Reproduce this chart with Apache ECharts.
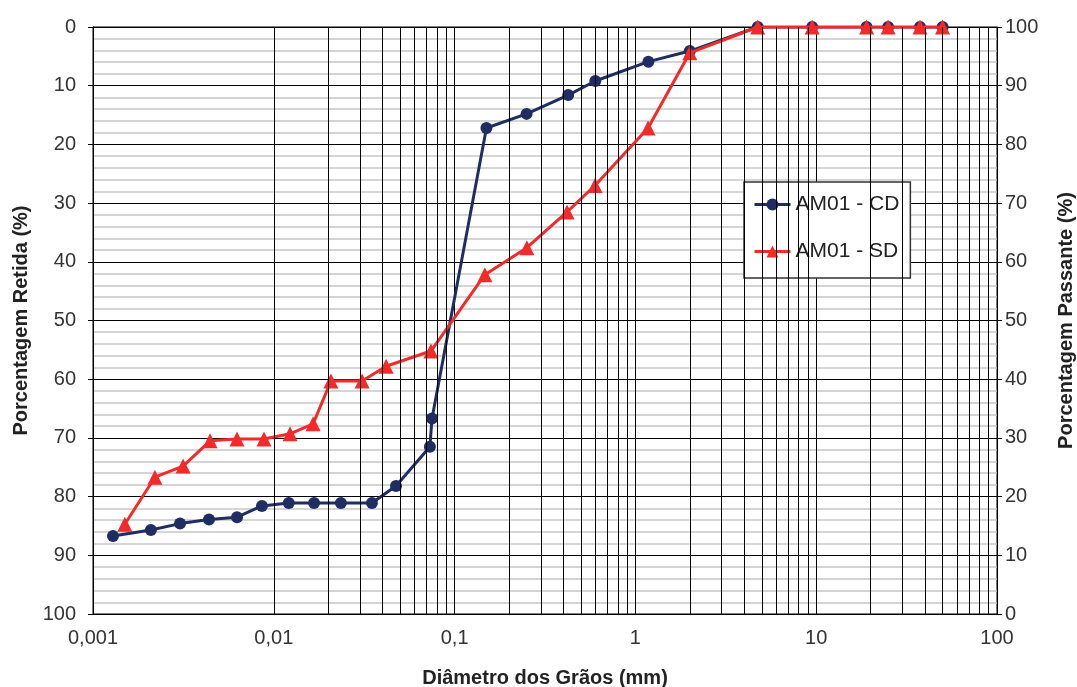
<!DOCTYPE html>
<html><head><meta charset="utf-8">
<script src="https://cdn.jsdelivr.net/npm/echarts@6/dist/echarts.min.js"></script>
<style>html,body{margin:0;padding:0;background:#fff}#c{width:1077px;height:687px}</style>
</head><body><div id="c"></div>
<script>
// AM01 - CD : diameters (mm) and percentage retained
const cdDiameter = [0.00129,0.00209,0.00303,0.00438,0.00626,0.0086,0.0121,0.0167,0.0235,0.0349,0.0474,0.073,0.075,0.15,0.25,0.425,0.6,1.18,2.0,4.75,9.5,19,25,37.5,50];
const cdRetained = [86.7,85.7,84.6,83.9,83.5,81.6,81.1,81.1,81.1,81.1,78.2,71.5,66.7,17.2,14.8,11.6,9.2,5.9,4.1,0,0,0,0,0,0];
// AM01 - SD : diameters (mm) and percentage passing
const sdDiameter = [0.0015,0.0022,0.00315,0.00444,0.00626,0.00883,0.0123,0.0165,0.0207,0.0308,0.0418,0.074,0.147,0.251,0.419,0.598,1.175,2.0,4.75,9.5,19,25,37.5,50];
const sdPassing = [15.3,23.3,25.2,29.5,29.8,29.8,30.7,32.4,39.7,39.7,42.2,44.8,57.8,62.4,68.5,73.0,82.8,95.6,100,100,100,100,100,100];
const xTickLabels = {'0.001':'0,001','0.01':'0,01','0.1':'0,1','1':'1','10':'10','100':'100'};
const decades = [0.001,0.01,0.1,1,10];
const multipliers = [2,3,4,5,6,7,8,9];

const gridX = [];
decades.forEach(d => multipliers.forEach(m => gridX.push({xAxis: +(d*m).toPrecision(3)})));

const NAVY = '#1f2d63', RED = '#f22a2a';
const FONT = 'Liberation Sans, Arial, sans-serif';
const chart = echarts.init(document.getElementById('c'));
const lab = {fontFamily:FONT, fontSize:20, color:'#333'};
const nm = {fontFamily:FONT, fontSize:20, fontWeight:'bold', color:'#222'};
chart.setOption({
  animation:false,
  backgroundColor:'#fff',
  grid:{left:93, right:80, top:27, bottom:73, outerBoundsMode:'none', containLabel:false,
        show:true, borderColor:'#000', borderWidth:1},
  legend:{
    left:744, top:182, orient:'vertical', itemGap:26, padding:[12,11,16,9],
    backgroundColor:'#fff', borderColor:'#333', borderWidth:1.5,
    itemWidth:36, itemHeight:15,
    lineStyle:{width:3},
    textStyle:{fontFamily:FONT, fontSize:21, color:'#222'},
    data:['AM01 - CD','AM01 - SD']
  },
  xAxis:{
    type:'log', logBase:10, min:0.001, max:100,
    name:'Diâmetro dos Grãos (mm)', nameLocation:'middle', nameGap:54, nameTextStyle:nm,
    axisLine:{lineStyle:{color:'#000'}},
    axisTick:{show:false},
    axisLabel:Object.assign({margin:14, formatter:v => xTickLabels[String(+v.toPrecision(1))] || String(v)}, lab),
    splitLine:{show:true, lineStyle:{color:'#000', width:1}}
  },
  yAxis:[{
    type:'value', inverse:true, min:0, max:100, interval:10,
    name:'Porcentagem Retida (%)', nameLocation:'middle', nameGap:61, nameTextStyle:nm,
    axisLine:{show:true, lineStyle:{color:'#000'}},
    axisTick:{show:true, length:5, lineStyle:{color:'#000'}},
    axisLabel:Object.assign({margin:17}, lab),
    splitLine:{show:true, lineStyle:{color:'#000', width:1}},
    minorTick:{show:false, splitNumber:5},
    minorSplitLine:{show:true, lineStyle:{color:'#c8c8c8', width:1.5}}
  },{
    type:'value', min:0, max:100, interval:10, position:'right',
    name:'Porcentagem Passante (%)', nameLocation:'middle', nameGap:59, nameTextStyle:nm,
    axisLine:{show:true, lineStyle:{color:'#000'}},
    axisTick:{show:true, length:5, lineStyle:{color:'#000'}},
    axisLabel:Object.assign({margin:8}, lab),
    splitLine:{show:false}
  }],
  series:[
    {type:'line', name:'grid', data:[], z:1, silent:true,
     markLine:{silent:true, symbol:'none', label:{show:false}, animation:false,
       lineStyle:{color:'#000', width:1, type:'solid'}, emphasis:{disabled:true}, data:gridX}},
    {type:'line', name:'AM01 - CD', yAxisIndex:0, z:3,
     data:cdDiameter.map((d,i)=>[d,cdRetained[i]]),
     symbol:'circle', symbolSize:12, color:NAVY,
     lineStyle:{color:NAVY, width:3}, itemStyle:{color:NAVY}},
    {type:'line', name:'AM01 - SD', yAxisIndex:1, z:4,
     data:sdDiameter.map((d,i)=>[d,sdPassing[i]]),
     symbol:'triangle', symbolSize:15, color:RED,
     lineStyle:{color:RED, width:3}, itemStyle:{color:RED}}
  ]
});
</script></body></html>
